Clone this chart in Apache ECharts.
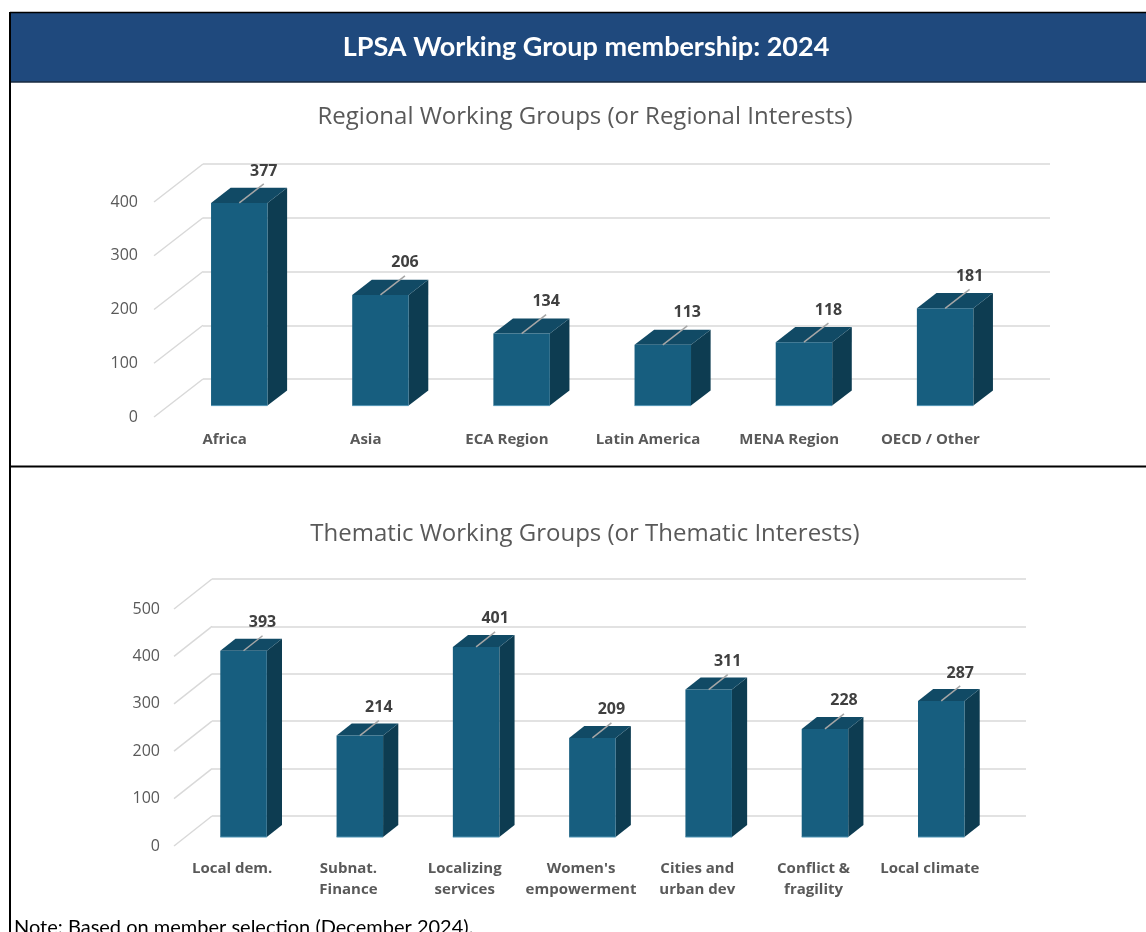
<!DOCTYPE html>
<html>
<head>
<meta charset="utf-8">
<script src="https://cdn.jsdelivr.net/npm/echarts@6/dist/echarts.min.js"></script>
<style>
html, body { margin: 0; padding: 0; background: #fff; }
#main { width: 1146px; height: 932px; }
</style>
</head>
<body>
<div id="main"></div>
<script>
var regionNames = ['Africa', 'Asia', 'ECA Region', 'Latin America', 'MENA Region', 'OECD / Other'];
var regionValues = [377, 206, 134, 113, 118, 181];
var regionTicks = [0, 100, 200, 300, 400];

var themeNames = ['Local dem.', 'Subnat.\nFinance', 'Localizing\nservices', "Women's\nempowerment",
  'Cities and\nurban dev', 'Conflict &\nfragility', 'Local climate'];
var themeValues = [393, 214, 401, 209, 311, 228, 287];
var themeTicks = [0, 100, 200, 300, 400, 500];

var app = echarts.init(document.getElementById('main'));

var gridCol = '#d9d9d9';
var txtCol = '#595959';
var frontCol = '#175e7f';
var sideCol = '#0d3c51';
var topCol = '#114a65';

// depth vector (front plane -> back wall) for each chart
var depth1 = [49, -38];
var depth2 = [38, -30];

function diagItem(D) {
  return function (params, api) {
    var p = api.coord([0, api.value(1)]);
    var x0 = params.coordSys.x;
    return {
      type: 'line',
      shape: { x1: x0 - D[0], y1: p[1] - D[1], x2: x0, y2: p[1] },
      style: { stroke: gridCol, lineWidth: 1.5 }
    };
  };
}

function barItem(D) {
  return function (params, api) {
    var i = api.value(0), v = api.value(1);
    var top = api.coord([i, v]), base = api.coord([i, 0]);
    var w = api.size([1, 0])[0] * 0.4;
    var fx = top[0] - 0.7 * D[0];
    var yT = top[1] - 0.7 * D[1];
    var yB = base[1] - 0.7 * D[1];
    var bx = 0.4 * D[0], by = 0.4 * D[1];
    var x0 = fx - w / 2, x1 = fx + w / 2;
    var lx = fx + 0.5 * D[0], ly = yT + 0.5 * D[1];
    return {
      type: 'group',
      children: [
        { type: 'polygon', shape: { points: [[x1, yT], [x1 + bx, yT + by], [x1 + bx, yB + by], [x1, yB]] },
          style: { fill: sideCol } },
        { type: 'polygon', shape: { points: [[x0, yT], [x1, yT], [x1 + bx, yT + by], [x0 + bx, yT + by]] },
          style: { fill: topCol } },
        { type: 'rect', shape: { x: x0, y: yT, width: w, height: yB - yT },
          style: { fill: frontCol } },
        { type: 'line', shape: { x1: x0, y1: yB, x2: x1, y2: yB },
          style: { stroke: '#4f93b3', lineWidth: 1 } },
        { type: 'line', shape: { x1: fx, y1: yT, x2: lx, y2: ly },
          style: { stroke: '#a6a6a6', lineWidth: 1.5 } },
        { type: 'text', x: lx, y: ly - 13,
          style: { text: String(v), fill: '#404040', font: 'bold 16px "Open Sans"',
            align: 'center', verticalAlign: 'middle' } }
      ]
    };
  };
}

function backX(names, idx) {
  return { gridIndex: idx, type: 'category', data: names, show: false };
}
function backY(ticks, idx) {
  return {
    gridIndex: idx, type: 'value', min: 0, max: ticks[ticks.length - 1], interval: 100,
    axisLine: { show: false }, axisTick: { show: false }, axisLabel: { show: false },
    splitLine: { lineStyle: { color: gridCol, width: 1.5 } }
  };
}
function frontX(names, idx) {
  return {
    gridIndex: idx, type: 'category', data: names,
    axisLine: { show: false }, axisTick: { show: false },
    axisLabel: { margin: 12, color: txtCol, fontFamily: 'Open Sans', fontWeight: 'bold',
      fontSize: 15, lineHeight: 21, interval: 0 }
  };
}
function frontY(ticks, idx, margin) {
  return {
    gridIndex: idx, type: 'value', min: 0, max: ticks[ticks.length - 1], interval: 100,
    axisLine: { show: false }, axisTick: { show: false }, splitLine: { show: false },
    axisLabel: { margin: margin, color: txtCol, fontFamily: 'Open Sans', fontSize: 16 }
  };
}

var option = {
  animation: false,
  graphic: [
    { type: 'rect', shape: { x: 10, y: 12, width: 1136, height: 70 }, style: { fill: '#1f497d' } },
    { type: 'line', shape: { x1: 10, y1: 12.5, x2: 1146, y2: 12.5 }, style: { stroke: '#000', lineWidth: 1.5 } },
    { type: 'line', shape: { x1: 10, y1: 82, x2: 1146, y2: 82 }, style: { stroke: '#1a2b40', lineWidth: 1.5 } },
    { type: 'line', shape: { x1: 10, y1: 12, x2: 10, y2: 932 }, style: { stroke: '#000', lineWidth: 2 } },
    { type: 'line', shape: { x1: 10, y1: 466.5, x2: 1146, y2: 466.5 }, style: { stroke: '#000', lineWidth: 2 } },
    { type: 'text', x: 586, y: 47,
      style: { text: 'LPSA Working Group membership: 2024', fill: '#fff', font: 'bold 27px Lato',
        align: 'center', verticalAlign: 'middle' } },
    { type: 'text', x: 585, y: 117,
      style: { text: 'Regional Working Groups (or Regional Interests)', fill: txtCol, font: '24px "Open Sans"',
        align: 'center', verticalAlign: 'middle' } },
    { type: 'text', x: 585, y: 534,
      style: { text: 'Thematic Working Groups (or Thematic Interests)', fill: txtCol, font: '24px "Open Sans"',
        align: 'center', verticalAlign: 'middle' } },
    { type: 'text', x: 14, y: 928,
      style: { text: 'Note: Based on member selection (December 2024).', fill: '#000', font: '20px Lato',
        align: 'left', verticalAlign: 'middle' } }
  ],
  grid: [
    { left: 203, top: 164, width: 847, height: 215 },
    { left: 154, top: 202, width: 847, height: 215 },
    { left: 212, top: 579, width: 814, height: 237 },
    { left: 174, top: 609, width: 814, height: 237 }
  ],
  xAxis: [backX(regionNames, 0), frontX(regionNames, 1), backX(themeNames, 2), frontX(themeNames, 3)],
  yAxis: [backY(regionTicks, 0), frontY(regionTicks, 1, 16), backY(themeTicks, 2), frontY(themeTicks, 3, 14)],
  series: [
    { type: 'custom', xAxisIndex: 0, yAxisIndex: 0, clip: false, silent: true,
      renderItem: diagItem(depth1), data: regionTicks.map(function (t) { return [0, t]; }) },
    { type: 'custom', xAxisIndex: 0, yAxisIndex: 0, clip: false,
      renderItem: barItem(depth1), data: regionValues.map(function (v, i) { return [i, v]; }) },
    { type: 'custom', xAxisIndex: 2, yAxisIndex: 2, clip: false, silent: true,
      renderItem: diagItem(depth2), data: themeTicks.map(function (t) { return [0, t]; }) },
    { type: 'custom', xAxisIndex: 2, yAxisIndex: 2, clip: false,
      renderItem: barItem(depth2), data: themeValues.map(function (v, i) { return [i, v]; }) }
  ]
};

app.setOption(option);
</script>
</body>
</html>
